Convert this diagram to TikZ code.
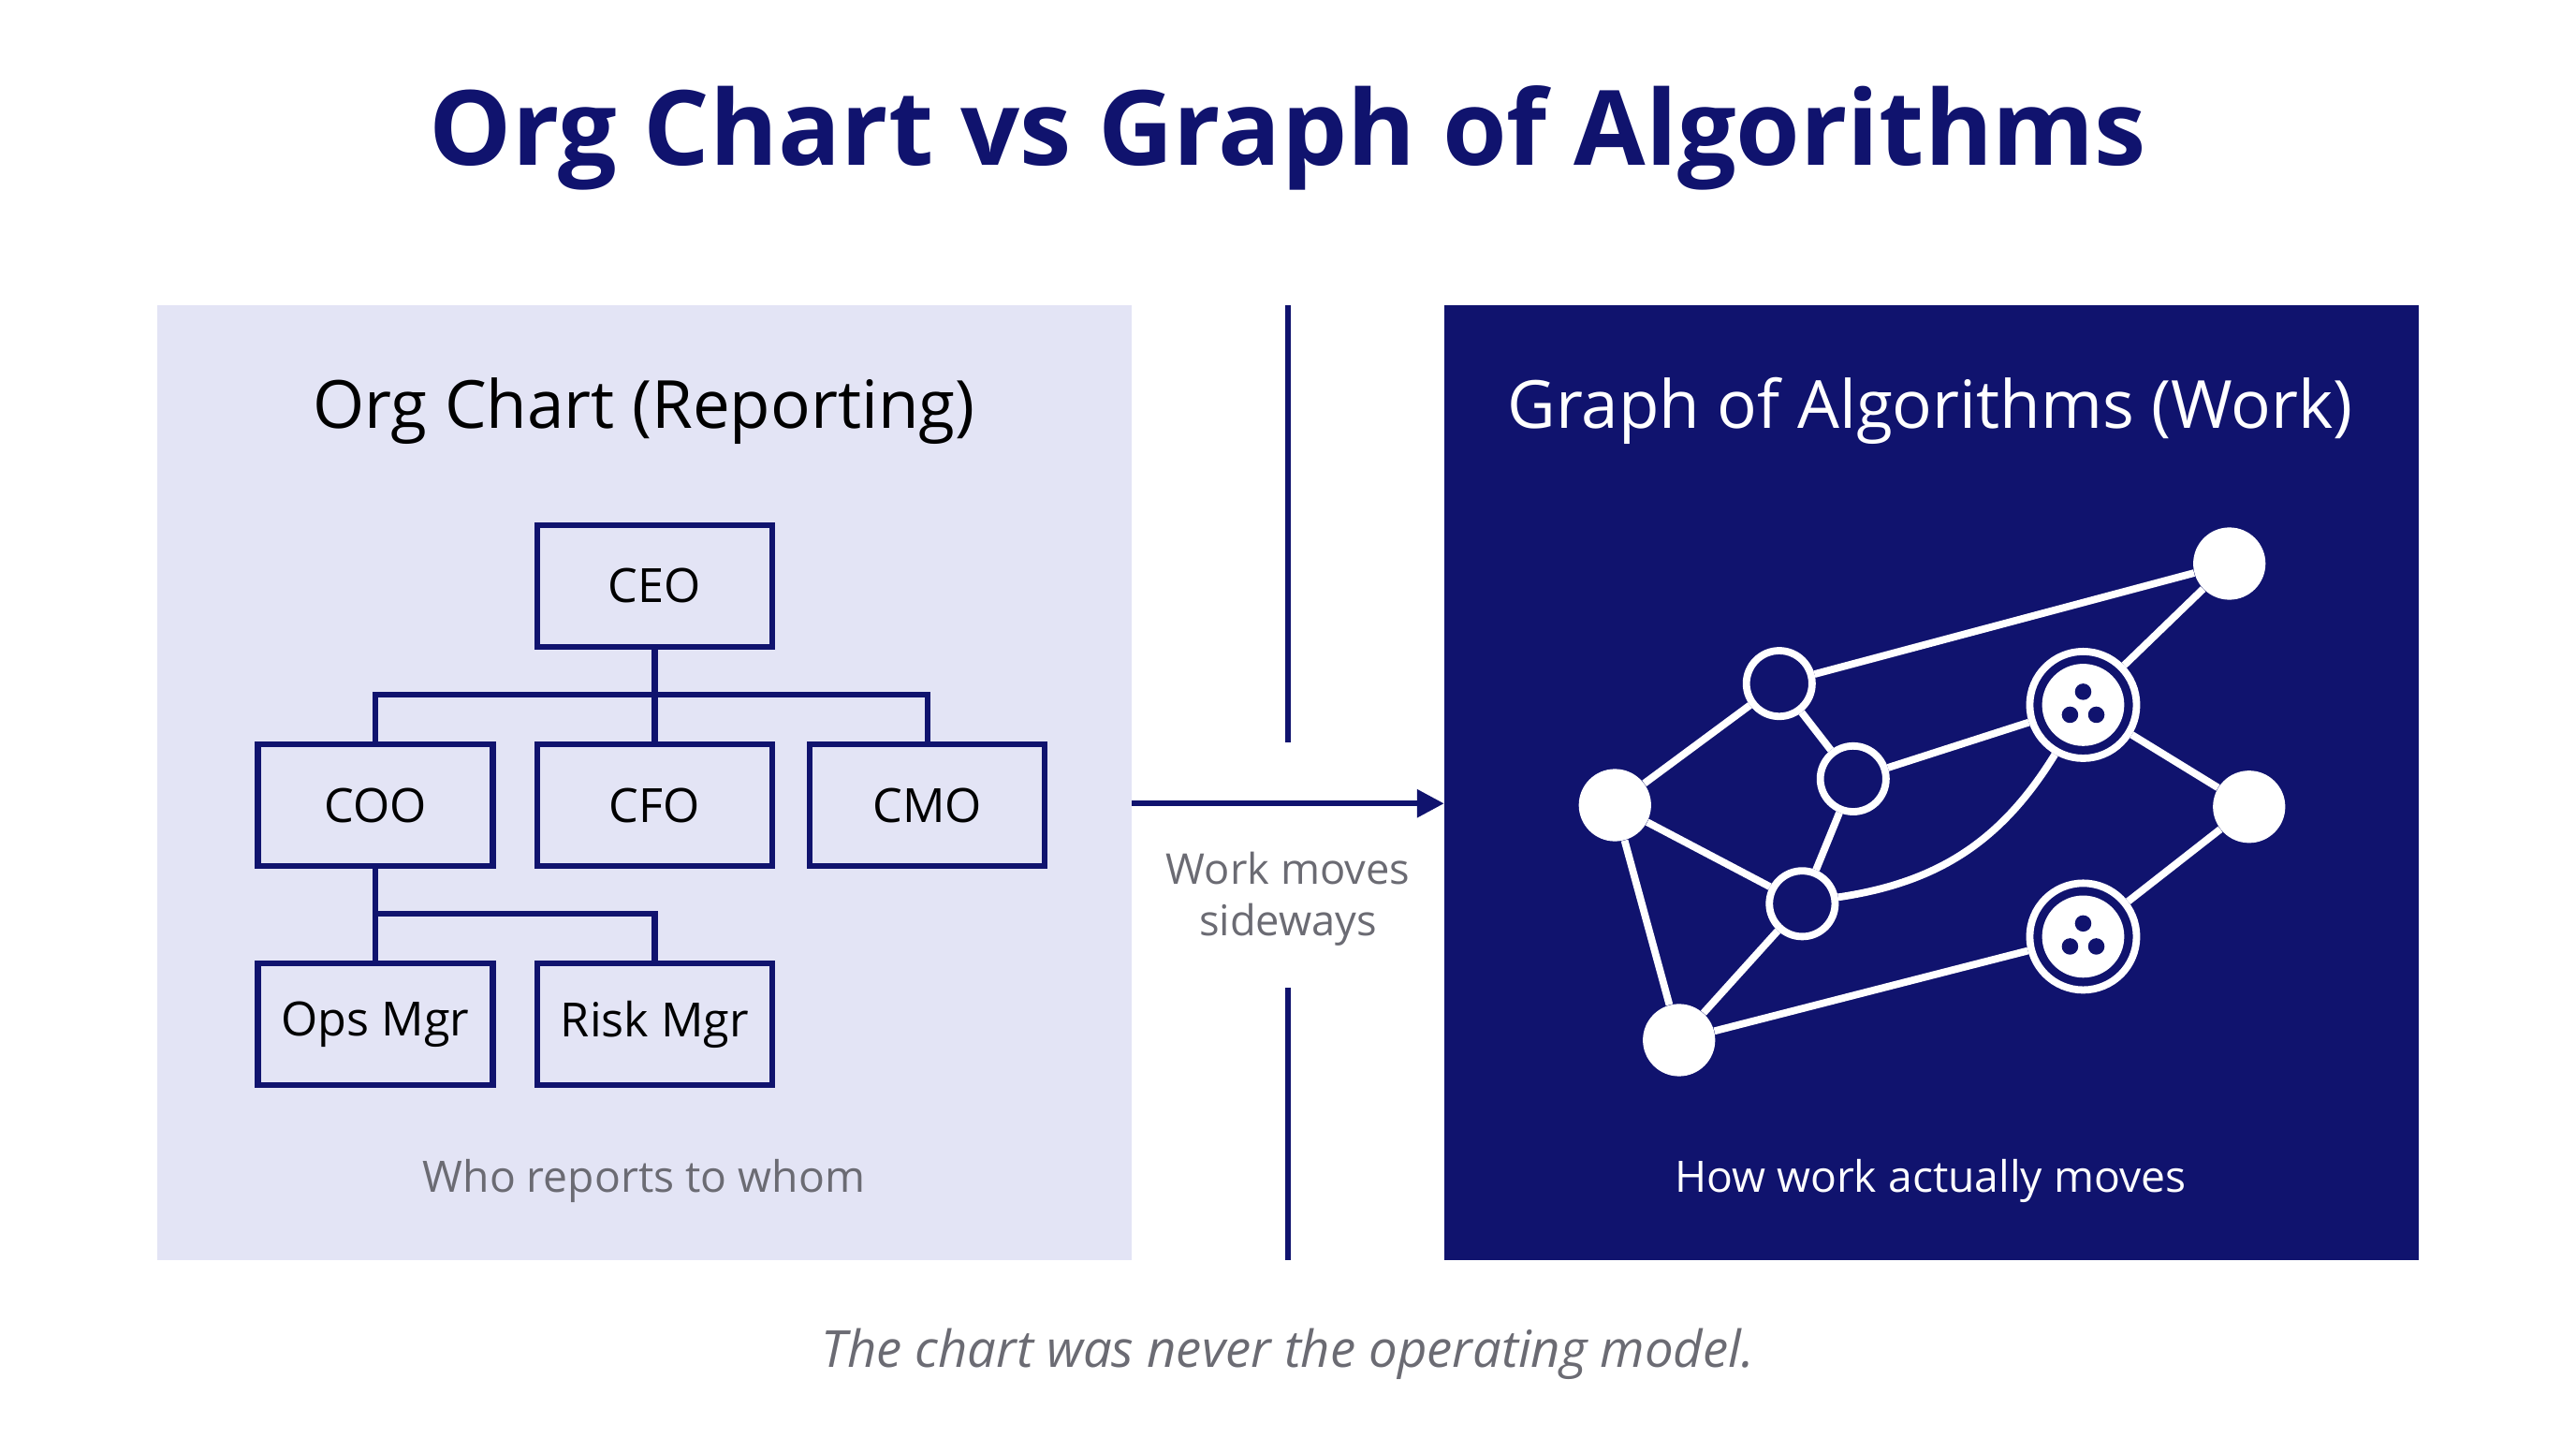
\documentclass[tikz,border=0pt]{standalone}
\usepackage{fontspec}
\setmainfont{Open Sans}
\usetikzlibrary{arrows.meta}
\definecolor{navy}{HTML}{10136E}
\definecolor{lav}{HTML}{E3E4F5}
\definecolor{gr}{HTML}{6B6B73}
\begin{document}
\begin{tikzpicture}[x=0.03cm,y=-0.03cm,
 box/.style={draw=navy,line width=3pt,minimum width=4.29cm,minimum height=2.22cm,inner sep=0pt,font=\fontsize{24.5}{28}\selectfont},
 conn/.style={navy,line width=3pt},
 ge/.style={white,line width=3.8pt},
 fn/.style={circle,fill=white,minimum size=1.32cm,inner sep=0pt},
 hn/.style={circle,draw=white,line width=3.8pt,fill=navy,minimum size=1.2cm,inner sep=0pt},
 dn/.style={circle,draw=white,line width=3.8pt,fill=navy,minimum size=1.95cm,inner sep=0pt}]
\useasboundingbox (0,0) rectangle (1568,875);
\fill[white] (0,0) rectangle (1568,875);
\node[font=\fontsize{54}{61}\bfseries\selectfont,text=navy] (title) at (784,84) {Org Chart vs Graph of Algorithms};
\fill[lav] (96,186) rectangle (689,767);
\fill[navy] (879,186) rectangle (1472,767);
\coordinate (d1) at (784,186); \coordinate (d2) at (784,452);
\coordinate (d3) at (784,601); \coordinate (d4) at (784,767);
\draw[conn] (d1)--(d2) (d3)--(d4);
\coordinate (a1) at (689,489); \coordinate (a2) at (879,489);
\draw[conn,-{Triangle[length=14pt,width=14pt]}] (a1)--(a2);
\node[text=gr,align=center,font=\fontsize{22}{27}\selectfont] (wm) at (784,547) {Work moves\\sideways};
\node[font=\fontsize{34.5}{40}\selectfont] (lh) at (392,250) {Org Chart (Reporting)};
\node[text=white,font=\fontsize{34.5}{40}\selectfont] (rh) at (1175,250) {Graph of Algorithms (Work)};
\node[box] (ceo) at (398.5,356.5) {CEO};
\node[box] (coo) at (228.5,490) {COO};
\node[box] (cfo) at (398.5,490) {CFO};
\node[box] (cmo) at (564.5,490) {CMO};
\node[box] (ops) at (228.5,623.5) {Ops Mgr};
\node[box] (risk) at (398.5,623.5) {Risk Mgr};
\draw[conn] (ceo.south)--(cfo.north);
\draw[conn] (coo.north)--(228.5,423)--(564.5,423)--(cmo.north);
\draw[conn] (coo.south)--(ops.north);
\draw[conn] (228.5,556)--(398.5,556)--(risk.north);
\node[text=gr,font=\fontsize{22.5}{26}\selectfont] (wr) at (392,719) {Who reports to whom};
\node[text=white,font=\fontsize{22.5}{26}\selectfont] (hw) at (1175,719) {How work actually moves};
\node[text=gr,font=\fontsize{26.5}{30}\itshape\selectfont] (cap) at (784,824) {The chart was never the operating model.};
% graph
\node[fn] (A) at (1357,343) {};
\node[hn] (B) at (1083,416) {};
\node[dn] (C) at (1268,429) {};
\node[fn] (D) at (983,490) {};
\node[hn] (E) at (1128,474) {};
\node[fn] (F) at (1369,491) {};
\node[hn] (G) at (1097,550) {};
\node[dn] (H) at (1268,570) {};
\node[fn] (I) at (1022,633) {};
\foreach \n in {C,H}{
 \fill[white] (\n) circle (25);
 \fill[navy] (\n) ++(0,-8) circle (5);
 \fill[navy] (\n) ++(-8,6) circle (5);
 \fill[navy] (\n) ++(8,6) circle (5);
}
\draw[ge] (B)--(A); \draw[ge] (A)--(C); \draw[ge] (D)--(B); \draw[ge] (B)--(E);
\draw[ge] (E)--(C); \draw[ge] (C)--(F); \draw[ge] (D)--(G); \draw[ge] (E)--(G);
\draw[ge] (G) to[bend right=25] (C); \draw[ge] (D)--(I); \draw[ge] (G)--(I);
\draw[ge] (I)--(H); \draw[ge] (H)--(F);
\end{tikzpicture}
\end{document}
